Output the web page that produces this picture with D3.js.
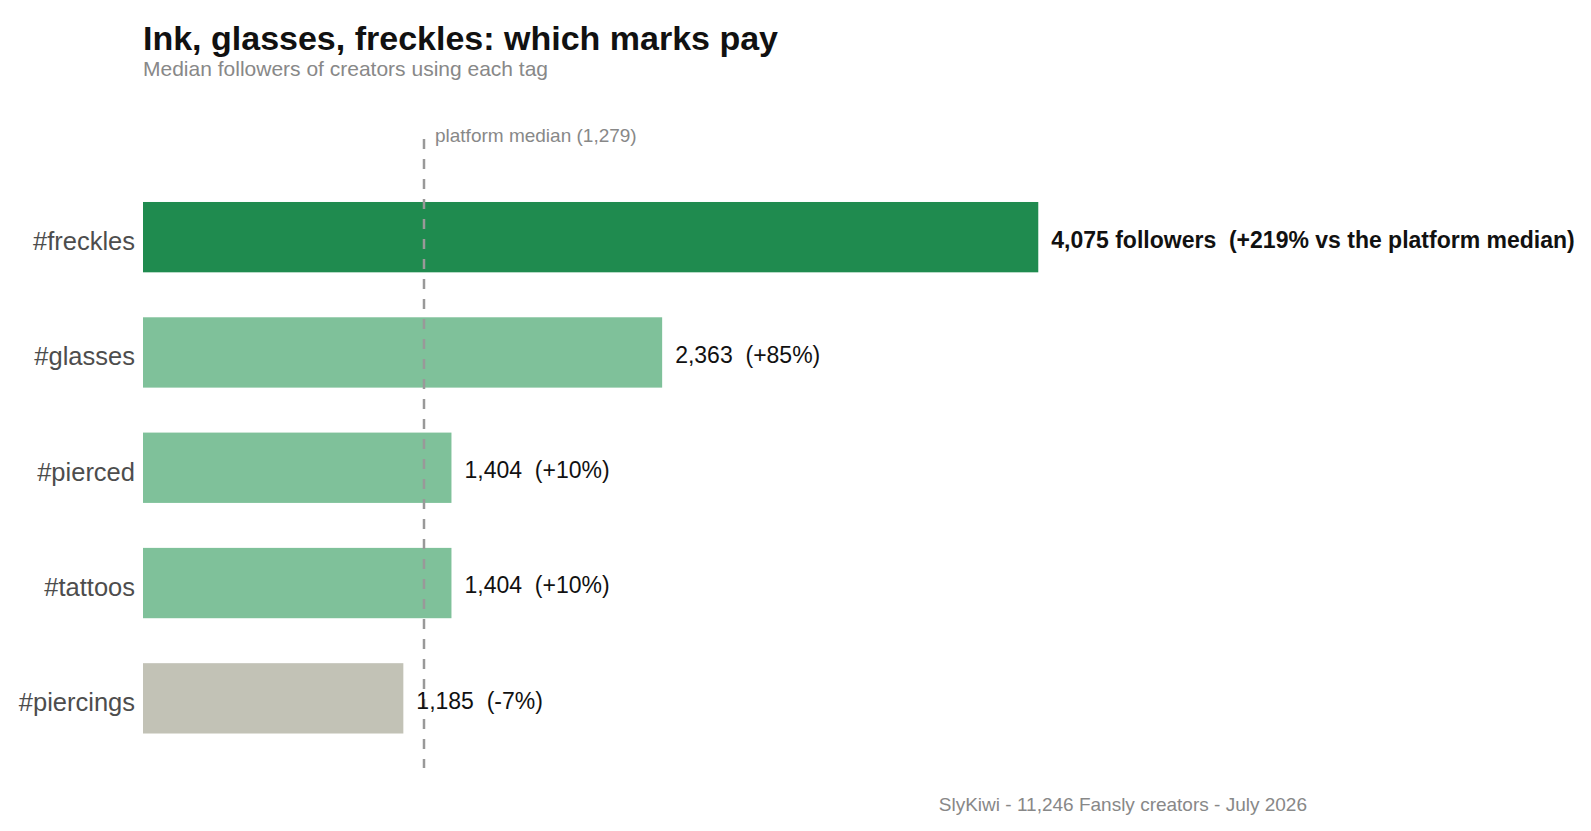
<!DOCTYPE html>
<html>
<head>
<meta charset="utf-8">
<script src="https://cdn.jsdelivr.net/npm/d3@7"></script>
<style>
  body { margin: 0; background: #fff; }
  svg { display: block; font-family: "Liberation Sans", Arial, Helvetica, sans-serif; }
</style>
</head>
<body>
<svg id="chart" width="1591" height="831"></svg>
<script>
// data
const tags = ["#freckles", "#glasses", "#pierced", "#tattoos", "#piercings"];
const followers = [4075, 2363, 1404, 1404, 1185];
const deltas = ["+219%", "+85%", "+10%", "+10%", "-7%"];
const platformMedian = 1279;

const width = 1591, height = 831;
const svg = d3.select("#chart");

const rows = tags.map((t, i) => ({ tag: t, value: followers[i], delta: deltas[i], top: i === 0 }));

// scales
const x = d3.scaleLinear()
    .domain([0, 5500])
    .range([143, 143 + 5500 * 0.2197]);

const y = d3.scaleBand()
    .domain(tags)
    .range([167.4, 768.1])
    .paddingInner(0.39)
    .paddingOuter(0.3);

function barColor(d) {
    if (d.top) return "#1f8b4f";
    if (d.value < platformMedian) return "#c2c2b6";
    return "#7fc19a";
}

// title + subtitle
svg.append("text")
    .attr("x", 143).attr("y", 50)
    .attr("font-size", 34).attr("font-weight", "bold")
    .attr("fill", "#111")
    .text("Ink, glasses, freckles: which marks pay");

svg.append("text")
    .attr("x", 143).attr("y", 76)
    .attr("font-size", 21)
    .attr("fill", "#888")
    .text("Median followers of creators using each tag");

// bars
svg.append("g")
    .selectAll("rect")
    .data(rows)
    .enter().append("rect")
    .attr("x", x(0))
    .attr("y", d => y(d.tag))
    .attr("width", d => x(d.value) - x(0))
    .attr("height", y.bandwidth())
    .attr("fill", barColor);

// platform median reference line
svg.append("line")
    .attr("x1", x(platformMedian)).attr("x2", x(platformMedian))
    .attr("y1", 139).attr("y2", 768)
    .attr("stroke", "#999")
    .attr("stroke-width", 2.5)
    .attr("stroke-dasharray", "10,10");

svg.append("text")
    .attr("x", x(platformMedian) + 11).attr("y", 142)
    .attr("font-size", 19)
    .attr("fill", "#888")
    .text("platform median (" + d3.format(",")(platformMedian) + ")");

// category labels
svg.append("g")
    .selectAll("text")
    .data(rows)
    .enter().append("text")
    .attr("x", 135)
    .attr("y", d => y(d.tag) + y.bandwidth() / 2)
    .attr("dy", "0.5em")
    .attr("text-anchor", "end")
    .attr("font-size", 25.5)
    .attr("fill", "#4d4d4d")
    .text(d => d.tag);

// value labels
svg.append("g")
    .selectAll("text")
    .data(rows)
    .enter().append("text")
    .attr("x", d => x(d.value) + 13)
    .attr("y", d => y(d.tag) + y.bandwidth() / 2)
    .attr("dy", "0.45em")
    .attr("font-size", 23)
    .attr("font-weight", d => d.top ? "bold" : "normal")
    .attr("fill", "#111")
    .style("white-space", "pre")
    .text(d => d.top
        ? d3.format(",")(d.value) + " followers  (" + d.delta + " vs the platform median)"
        : d3.format(",")(d.value) + "  (" + d.delta + ")");

// caption
svg.append("text")
    .attr("x", 1307).attr("y", 811)
    .attr("text-anchor", "end")
    .attr("font-size", 19)
    .attr("fill", "#888")
    .text("SlyKiwi - 11,246 Fansly creators - July 2026");
</script>
</body>
</html>
